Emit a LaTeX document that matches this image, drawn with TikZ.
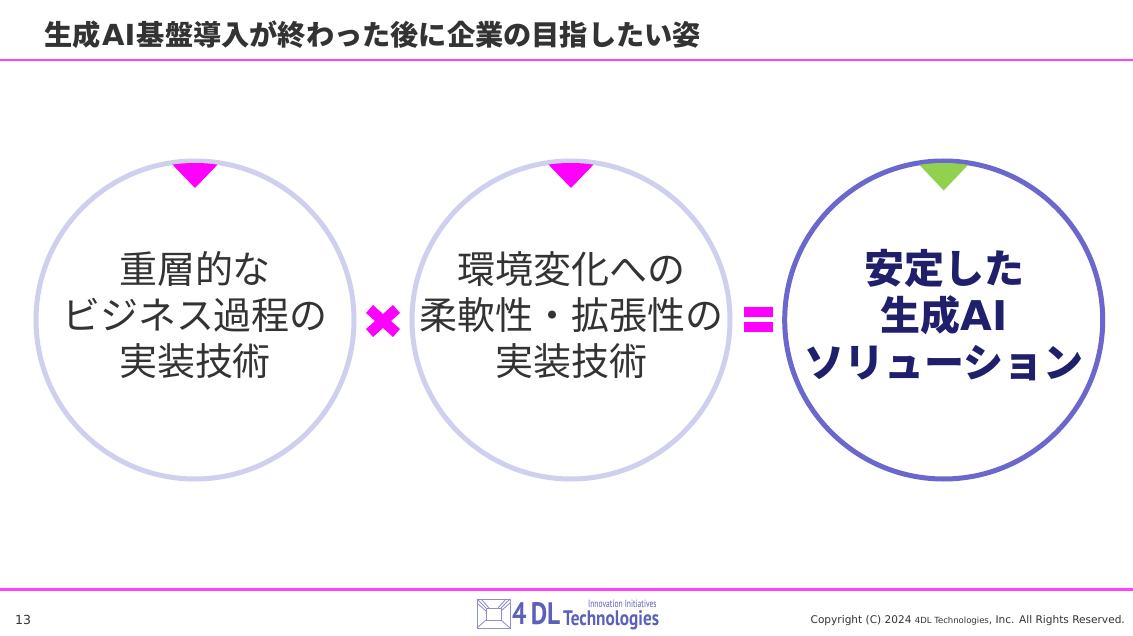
\documentclass[tikz,border=0pt]{standalone}
\usepackage{fontspec}
\setmainfont{Noto Sans CJK JP}
\newfontfamily\cjk{Noto Sans CJK JP}
\newfontfamily\latn{DejaVu Sans}
\newfontfamily\logof{PT Sans}
\definecolor{magentax}{HTML}{FF00FF}
\definecolor{ringl}{HTML}{CFD0EE}
\definecolor{ringd}{HTML}{6A68CC}
\definecolor{greenx}{HTML}{92D050}
\definecolor{inktx}{HTML}{333333}
\definecolor{navyx}{HTML}{1F1F6B}
\definecolor{logox}{HTML}{5B60B8}
\tikzset{
 ring/.style={draw=ringl,line width=5pt,circle,minimum size=318pt,inner sep=0pt},
 ringdark/.style={draw=ringd,line width=5pt,circle,minimum size=318pt,inner sep=0pt},
 body/.style={align=center,text=inktx,font=\cjk\fontsize{38}{46}\selectfont,inner sep=0pt},
 bodyb/.style={align=center,text=navyx,font=\cjk\bfseries\fontsize{40}{47}\selectfont,inner sep=0pt},
 rule/.style={draw=magentax!75!white,line width=1.6pt},
}
\begin{document}
\begin{tikzpicture}[x=1pt,y=-1pt]
\useasboundingbox[fill=white] (0,0) rectangle (1133,636);
\node[anchor=west,inner sep=0pt,text=inktx,font=\cjk\bfseries\fontsize{28.2}{30}\selectfont] (title) at (44,35) {生成{\latn\bfseries\fontsize{29}{30}\selectfont\kern1.5pt AI\kern1.5pt}基盤導入が終わった後に企業の目指したい姿};
\coordinate (tl) at (0,60); \coordinate (tr) at (1133,60);
\draw[rule] (tl) -- (tr);
\coordinate (bl) at (0,589.5); \coordinate (br) at (1133,589.5);
\draw[rule,line width=2.2pt] (bl) -- (br);

\node[ring] (c1) at (195,320) {};
\node[ring] (c2) at (571,320) {};
\node[ringdark] (c3) at (943.7,320) {};

\begin{scope}\clip (195,320) circle (157);\fill[magentax] (168,160) -- (222,160) -- (195,188) -- cycle;\end{scope}
\begin{scope}\clip (571,320) circle (157);\fill[magentax] (544,160) -- (598,160) -- (571,188) -- cycle;\end{scope}
\begin{scope}\clip (943.7,320) circle (157);\fill[greenx] (914.7,160) -- (972.7,160) -- (943.7,190.5) -- cycle;\end{scope}

\node[body] (t1) at (195,315) {重層的な\\ビジネス過程の\\実装技術};
\node[body] (t2) at (571,315) {環境変化への\\柔軟性・拡張性の\\実装技術};
\node[bodyb] (t3) at (944,315) {安定した\\生成{\latn\bfseries\fontsize{41}{47}\selectfont AI}\\ソリューション};

% multiply sign
\fill[magentax] (366,313) -- (373,305) -- (383,314) -- (393,305) -- (400,313) -- (391,321) -- (400,329) -- (393,337) -- (383,328) -- (373,337) -- (366,329) -- (375,321) -- cycle;
% equals sign
\fill[magentax] (743.5,307.5) rectangle (773,317);
\fill[magentax] (743.5,322.5) rectangle (773,332.5);

\node[anchor=west,inner sep=0pt,text=inktx,font=\latn\fontsize{12.5}{14}\selectfont] (pg) at (15,620) {13};

% logo
\begin{scope}[draw=logox!70!white,line width=.8pt]
\draw (477,599) rectangle (510,628);
\draw (486,608) rectangle (501,620);
\draw (477,599) -- (486,608) (510,599) -- (501,608) (477,628) -- (486,620) (510,628) -- (501,620);
\draw (481,599) -- (489,608) (506,599) -- (498,608) (477,603) -- (486,611) (510,603) -- (501,611);
\end{scope}
\node[anchor=west,inner sep=0pt,text=logox,font=\logof\bfseries\fontsize{31}{31}\selectfont,xscale=.82] (l4) at (512,614) {4\,DL};
\node[anchor=west,inner sep=0pt,text=logox,font=\logof\bfseries\fontsize{21}{21}\selectfont,xscale=.82] (lt) at (563,620) {Technologies};
\node[anchor=west,inner sep=0pt,text=logox,font=\logof\fontsize{10.5}{11}\selectfont,xscale=.72] (li) at (588,604) {Innovation Initiatives};

\node[anchor=east,inner sep=0pt,text=inktx,font=\latn\fontsize{10.57}{12}\selectfont] (cp) at (1125,621) {Copyright (C) 2024 {\fontsize{8.5}{10}\selectfont 4DL Technologies}, Inc. All Rights Reserved.};
\end{tikzpicture}
\end{document}
